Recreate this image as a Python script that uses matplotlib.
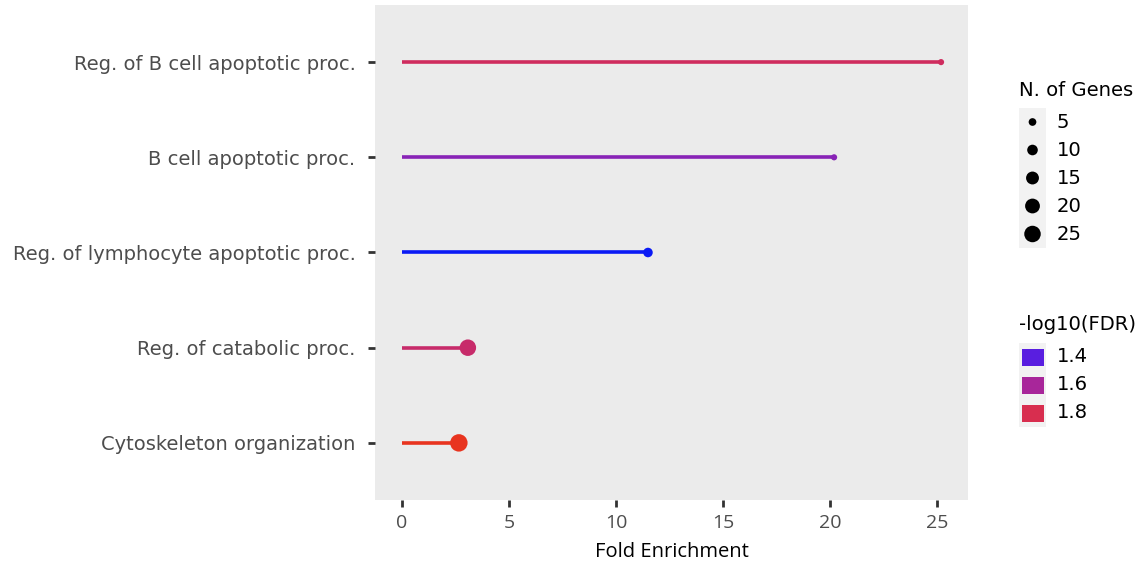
import matplotlib
matplotlib.use("Agg")
import matplotlib.pyplot as plt
import numpy as np
from matplotlib.colors import LinearSegmentedColormap, Normalize

# data, top to bottom
terms = [
    "Reg. of B cell apoptotic proc.",
    "B cell apoptotic proc.",
    "Reg. of lymphocyte apoptotic proc.",
    "Reg. of catabolic proc.",
    "Cytoskeleton organization",
]
fold_enrichment = [25.2, 20.2, 11.5, 3.08, 2.66]
n_genes = [3, 3, 8, 25, 28]
neg_log10_fdr = [1.76, 1.52, 1.30, 1.73, 1.90]

size_breaks = [5, 10, 15, 20, 25]
fdr_breaks = [1.4, 1.6, 1.8]

W, H, DPI = 1143, 564, 100

cmap = LinearSegmentedColormap.from_list(
    "fdr",
    [(0.0, "#0a1af5"), (1 / 6, "#5a1ee0"), (0.5, "#a8269a"), (5 / 6, "#d82e50"), (1.0, "#e8341f")],
)
norm = Normalize(vmin=1.30, vmax=1.90)


def marker_area(n):
    # diameter^2 in px grows linearly with gene count, converted to pt^2
    d_px = 1.1 * np.sqrt(5 + 8.8 * np.asarray(n, dtype=float))
    return (d_px * 72 / DPI) ** 2


fig = plt.figure(figsize=(W / DPI, H / DPI), dpi=DPI)
ax = fig.add_axes([375 / W, 1 - 500 / H, (968 - 375) / W, (500 - 5) / H])
ax.set_facecolor("#ebebeb")

y = np.arange(len(terms))[::-1]
colors = [cmap(norm(v)) for v in neg_log10_fdr]
ax.hlines(y, 0, fold_enrichment, colors=colors, linewidth=2.6, zorder=2)
ax.scatter(fold_enrichment, y, s=marker_area(n_genes), c=colors, edgecolors="none", zorder=3)

xfont = dict(family=["Open Sans", "DejaVu Sans"], stretch="normal", weight="normal")

xmax = max(fold_enrichment)
ax.set_xlim(-0.05 * xmax, 1.05 * xmax)
ax.set_ylim(-0.6, len(terms) - 0.4)
ax.set_yticks(y)
ax.set_yticklabels(terms, fontsize=14.05, color="#4d4d4d")
ax.set_xticks([0, 5, 10, 15, 20, 25])
ax.set_xticklabels(["0", "5", "10", "15", "20", "25"], fontsize=14, color="#4d4d4d", **xfont)
ax.set_xlabel("Fold Enrichment", fontsize=14.5, labelpad=7, **xfont)
ax.tick_params(axis="both", length=5, width=2, color="#333333")
ax.tick_params(axis="y", pad=9)
ax.tick_params(axis="x", pad=5)
for s in ax.spines.values():
    s.set_visible(False)

# legends drawn in a pixel-space axes
lg = fig.add_axes([0, 0, 1, 1], zorder=5)
lg.set_xlim(0, W)
lg.set_ylim(H, 0)
lg.axis("off")

lg.text(1019, 90, "N. of Genes", fontsize=14.1, va="center", ha="left")
key_x, key_w, key_h = 1019, 27, 28
for i, b in enumerate(size_breaks):
    cy = 122 + i * key_h
    lg.add_patch(plt.Rectangle((key_x, cy - key_h / 2), key_w, key_h, color="#f2f2f2", lw=0))
    lg.scatter([key_x + key_w / 2], [cy], s=marker_area([b]), color="black", edgecolors="none")
    lg.text(1057, cy, str(b), fontsize=14.1, va="center", ha="left")

lg.text(1019, 324, "-log10(FDR)", fontsize=14.1, va="center", ha="left")
for i, b in enumerate(fdr_breaks):
    cy = 357 + i * key_h
    lg.add_patch(plt.Rectangle((key_x, cy - key_h / 2), key_w, key_h, color="#f2f2f2", lw=0))
    lg.add_patch(plt.Rectangle((key_x + 2.5, cy - 8.5), 22, 17, color=cmap(norm(b)), lw=0))
    lg.text(1057, cy, f"{b:.1f}", fontsize=14.1, va="center", ha="left")

fig.savefig("out.png", dpi=DPI)
